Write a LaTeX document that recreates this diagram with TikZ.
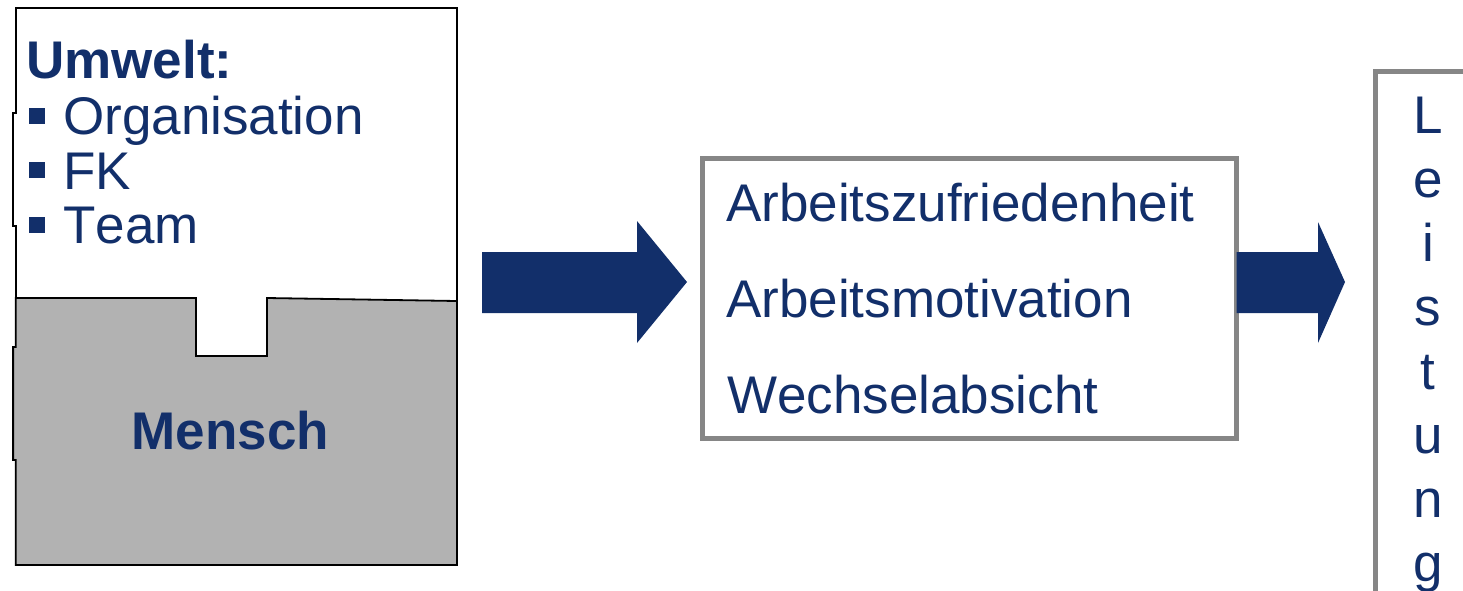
\documentclass[tikz,border=0pt]{standalone}
\usepackage{fontspec}
\setmainfont{Liberation Sans}[Kerning=Off]
\definecolor{navy}{RGB}{18,47,106}
\definecolor{framegray}{RGB}{134,134,134}
\definecolor{menschgray}{RGB}{178,178,178}

\begin{document}
\begin{tikzpicture}[x=1pt,y=-1pt,
  txt/.style={inner sep=0pt, anchor=base west, text=navy, font=\fontsize{53}{60}\selectfont},
  boldtxt/.style={txt, font=\fontsize{53}{60}\selectfont\bfseries},
  letter/.style={inner sep=0pt, anchor=base, text=navy, font=\fontsize{53}{60}\selectfont},
  bullet/.style={fill=navy, minimum size=16pt, inner sep=0pt},
  outline/.style={draw=black, line width=1.8pt, line join=miter},
  frame/.style={draw=framegray, line width=5pt, outer sep=0pt, inner sep=0pt},
  blockarrow/.style={fill=navy}]
\useasboundingbox (0,0) rectangle (1463,590);
\clip (0,0) rectangle (1463,590);

% environment block (white) with the person block (grey) in its lower part
\path[outline, fill=white] (15.7,8) -- (457,8) -- (457,565) -- (15.7,565)
  -- (15.7,460) -- (13.3,460) -- (13.3,347) -- (15.7,347)
  -- (15.7,226) -- (13.3,226) -- (13.3,113) -- (15.7,113) -- cycle;
\path[outline, fill=menschgray] (15.7,298) -- (196,298) -- (196,356) -- (267,356)
  -- (267,298) -- (457,301) -- (457,565) -- (15.7,565)
  -- (15.7,460) -- (13.3,460) -- (13.3,347) -- (15.7,347) -- cycle;

\node[boldtxt] (umwelt) at (26,78) {Umwelt:};
\node[bullet] (b1) at (37,116) {};
\node[txt] (org) at (63,134) {Organisation};
\node[bullet] (b2) at (37,170) {};
\node[txt] (fk) at (63,189) {FK};
\node[bullet] (b3) at (37,225) {};
\node[txt] (team) at (63,243) {Team};
\node[letter, font=\fontsize{53}{60}\selectfont\bfseries] (mensch) at (230.5,449) {Mensch};

% outcome box
\node[frame, anchor=north west, minimum width=534.5pt, minimum height=280.5pt]
  (outcomes) at (702,158) {};
\node[txt] (zuf) at (726,221) {Arbeitszufriedenheit};
\node[txt] (mot) at (726,317) {Arbeitsmotivation};
\node[txt] (wech) at (727,413) {Wechselabsicht};

% performance box (runs off the right and bottom edges)
\node[frame, anchor=north west, minimum width=200pt, minimum height=600pt]
  (leistung) at (1375.5,71.5) {};
\foreach \ch [count=\k from 0] in {L,e,i,s,t,u,n,g}
  \node[letter] (l\k) at (1428,133+64*\k) {\ch};

% block arrows
\fill[blockarrow] (482,252) -- (637,252) -- (637,221) -- (687,282) -- (637,343)
  -- (637,313) -- (482,313) -- cycle;
\fill[blockarrow] (outcomes.east |- 0,252) -- (1318,252) -- (1318,222) -- (1345,282)
  -- (1318,343) -- (1318,313) -- (outcomes.east |- 0,313) -- cycle;
\end{tikzpicture}
\end{document}
